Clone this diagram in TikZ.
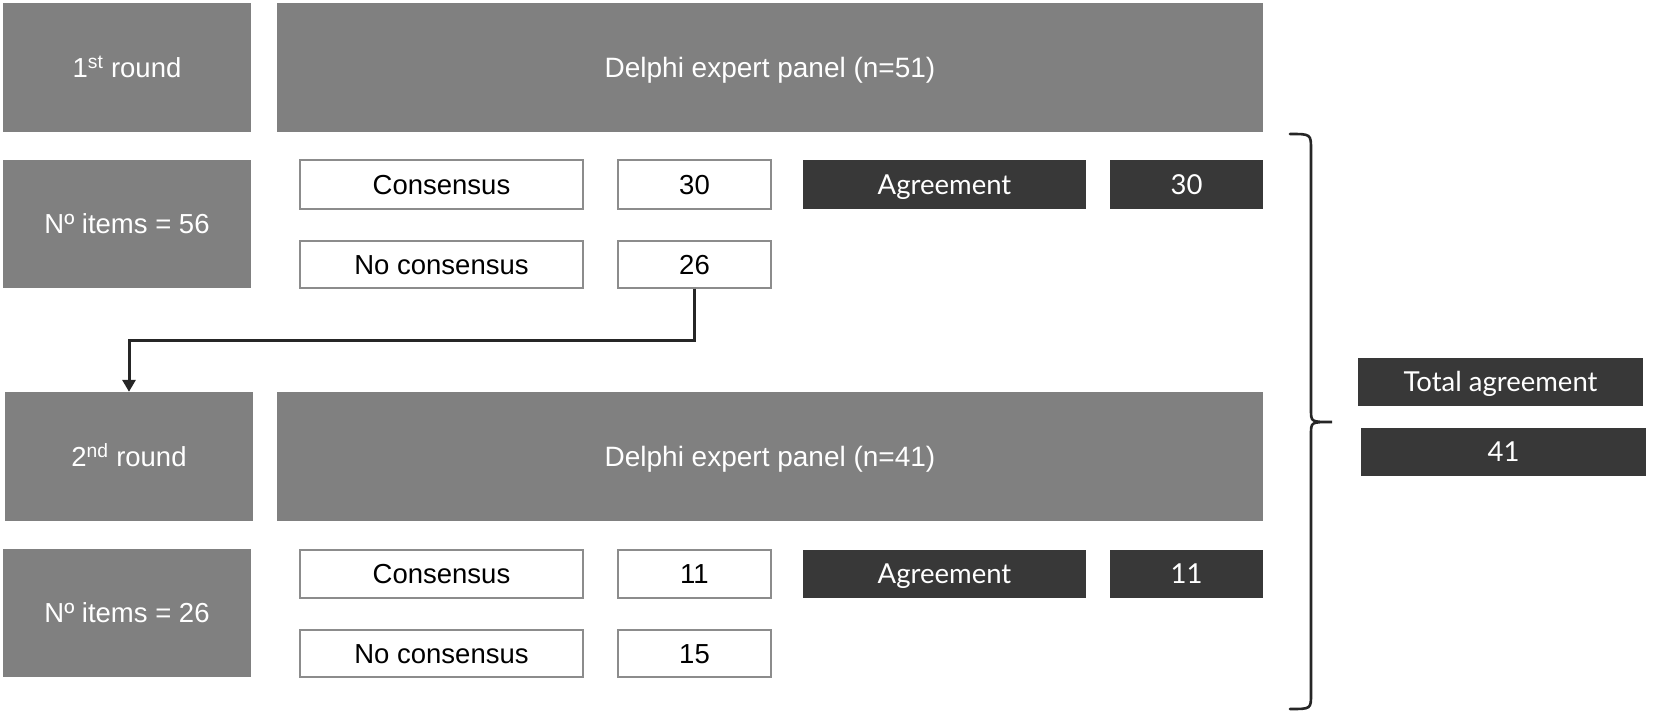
\documentclass[tikz,border=0pt]{standalone}
\usepackage{fontspec}
\setmainfont{Liberation Sans}
\newfontfamily\aptosf{Lato}
\usetikzlibrary{arrows.meta}
\definecolor{midgray}{HTML}{808080}
\definecolor{darkbox}{HTML}{383838}
\definecolor{wborder}{HTML}{8C8C8C}
\definecolor{linec}{HTML}{262626}
\tikzset{
  capc/.style={text height=19.8pt, text depth=0pt},
  graybox/.style={fill=midgray, draw=none, text=white, inner sep=0pt, font=\fontsize{27.5}{32}\selectfont, capc},
  panelbox/.style={graybox, font=\fontsize{28}{32}\selectfont},
  whitebox/.style={fill=white, draw=wborder, line width=1.3pt, text=black, inner sep=0pt, font=\fontsize{27.5}{32}\selectfont, capc},
  darkb/.style={fill=darkbox, draw=none, text=white, inner sep=0pt, font=\aptosf\fontsize{27.5}{32}\selectfont, capc},
  arr/.style={draw=linec, line width=3pt, -{Triangle[length=12pt,width=13pt]}},
  brace/.style={draw=linec, line width=2.6pt, line cap=round}
}
\begin{document}
\begin{tikzpicture}[x=1pt,y=-1pt]
\useasboundingbox (0,0) rectangle (1654,720);
% round 1
\node[graybox, minimum width=248pt, minimum height=129pt] (r1) at (127,67.5) {1\textsuperscript{st} round};
\node[panelbox, minimum width=986pt, minimum height=129pt] (p1) at (770,67.5) {Delphi expert panel (n=51)};
\node[graybox, minimum width=248pt, minimum height=128pt] (i1) at (127,224) {Nº items = 56};
\node[whitebox, minimum width=283pt, minimum height=49pt] (c1) at (441.5,184.5) {Consensus};
\node[whitebox, minimum width=153pt, minimum height=49pt] (c1n) at (694.5,184.5) {30};
\node[darkb, minimum width=283pt, minimum height=49pt] (a1) at (944.5,184.5) {Agreement};
\node[darkb, minimum width=153pt, minimum height=49pt] (a1n) at (1186.5,184.5) {30};
\node[whitebox, minimum width=283pt, minimum height=47pt] (n1) at (441.5,264.5) {No consensus};
\node[whitebox, minimum width=153pt, minimum height=47pt] (n1n) at (694.5,264.5) {26};
% round 2
\node[graybox, minimum width=248pt, minimum height=129pt] (r2) at (129,456.5) {2\textsuperscript{nd} round};
\node[panelbox, minimum width=986pt, minimum height=129pt] (p2) at (770,456.5) {Delphi expert panel (n=41)};
\node[graybox, minimum width=248pt, minimum height=128pt] (i2) at (127,613) {Nº items = 26};
\node[whitebox, minimum width=283pt, minimum height=48pt] (c2) at (441.5,574) {Consensus};
\node[whitebox, minimum width=153pt, minimum height=48pt] (c2n) at (694.5,574) {11};
\node[darkb, minimum width=283pt, minimum height=48pt] (a2) at (944.5,574) {Agreement};
\node[darkb, minimum width=153pt, minimum height=48pt] (a2n) at (1186.5,574) {11};
\node[whitebox, minimum width=283pt, minimum height=47pt] (n2) at (441.5,653.5) {No consensus};
\node[whitebox, minimum width=153pt, minimum height=47pt] (n2n) at (694.5,653.5) {15};
% totals
\node[darkb, minimum width=285pt, minimum height=48pt] (tot) at (1500.5,382) {Total agreement};
\node[darkb, minimum width=285pt, minimum height=48pt] (totn) at (1503.5,452) {41};
% arrow
\coordinate (elbow) at (129,340);
\draw[arr] (n1n.south) |- (elbow) -- (r2.north);
% brace
\coordinate (btop) at (1290,134);
\coordinate (bmid) at (1332,422);
\coordinate (bbot) at (1290,709);
\draw[brace] (btop) .. controls (1311,134) .. (1311,150) -- (1311,410)
  .. controls (1311,422) .. (bmid) .. controls (1311,422) .. (1311,434)
  -- (1311,694) .. controls (1311,709) .. (bbot);
\end{tikzpicture}
\end{document}
